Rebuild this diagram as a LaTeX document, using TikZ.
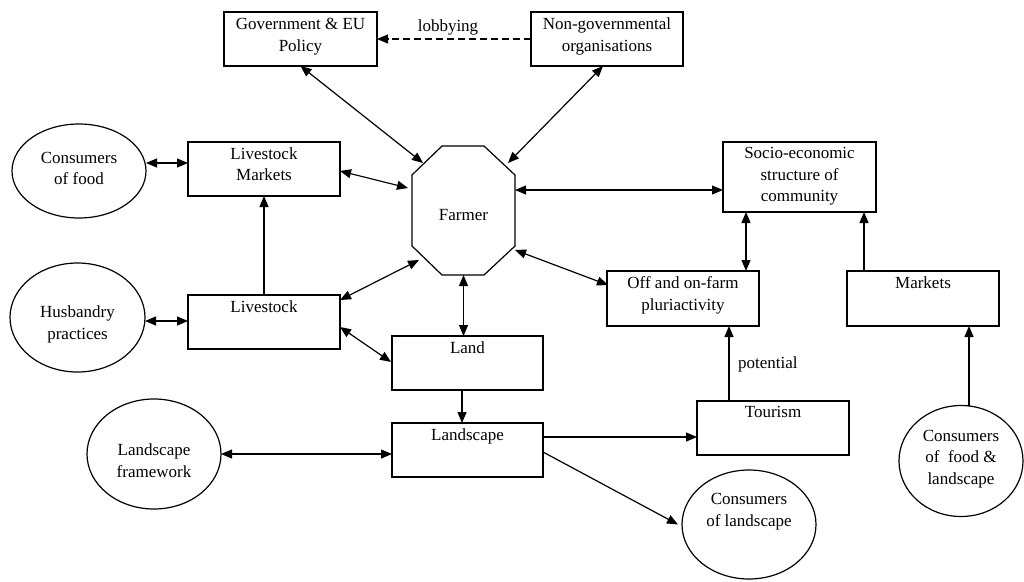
\documentclass[tikz,border=0pt]{standalone}
\usepackage{fontspec}
\setmainfont{Liberation Serif}
\usetikzlibrary{arrows.meta,calc,shapes.geometric}
\tikzset{
  every node/.append style={font=\fontsize{17pt}{21.5pt}\selectfont, text=black},
  box/.style={draw, line width=1.2pt, rectangle, inner sep=0pt, outer sep=0pt},
  oval/.style={draw, line width=1.2pt, ellipse, inner sep=0pt, outer sep=0pt},
  toptext/.style={anchor=north, yshift=-5.5pt, align=center, inner sep=0pt},
  midtext/.style={anchor=center, align=center, inner sep=0pt},
  conn/.style={line width=1.2pt},
  one/.style={conn, -{Triangle[length=11pt,width=9pt]}},
  two/.style={conn, {Triangle[length=11pt,width=9pt]}-{Triangle[length=11pt,width=9pt]}},
}
\begin{document}
\begin{tikzpicture}[x=1pt,y=-1pt]
\useasboundingbox (0,0) rectangle (1024,581);

% boxes
\node[box, minimum width=153pt, minimum height=54pt, label={[toptext,yshift=-0.5pt]north:{Government \& EU\\Policy}}] (gov) at (300.5,39) {};
\node[box, minimum width=152pt, minimum height=54pt, label={[toptext,yshift=-0.5pt]north:{Non-governmental\\organisations}}] (ngo) at (607,39) {};
\node[box, minimum width=152pt, minimum height=54pt, label={[toptext]north:{Livestock\\Markets}}] (lm) at (264,169) {};
\node[box, minimum width=152pt, minimum height=54pt, label={[toptext]north:{Livestock}}] (ls) at (264,322) {};
\node[box, minimum width=151pt, minimum height=54pt, label={[toptext]north:{Land}}] (land) at (467.5,363) {};
\node[box, minimum width=151pt, minimum height=54pt, label={[toptext]north:{Landscape}}] (lsc) at (467.5,450) {};
\node[box, minimum width=152pt, minimum height=54pt, label={[toptext]north:{Tourism}}] (tour) at (773,428) {};
\node[box, minimum width=153pt, minimum height=70pt, label={[toptext]north:{Socio-economic\\structure of\\community}}] (soc) at (799.5,177) {};
\node[box, minimum width=152pt, minimum height=55pt, label={[toptext]north:{Off and on-farm\\pluriactivity}}] (off) at (683,298.5) {};
\node[box, minimum width=152pt, minimum height=55pt, label={[toptext]north:{Markets}}] (mkt) at (923,298.5) {};

% farmer octagon
\node[inner sep=0pt, outer sep=0pt, minimum width=103pt, minimum height=129pt, label={[midtext,yshift=-5pt]center:{Farmer}}] (farmer) at (463.5,210.5) {};
\draw[line width=1.2pt] ([shift={(30,0)}]farmer.north west) -- ++(42,0) -- ++(31,29) -- ++(0,71) -- ++(-31,29) -- ++(-42,0) -- ++(-30,-29) -- ++(0,-71) -- cycle;

% ellipses
\node[oval, minimum width=134pt, minimum height=94pt, label={[midtext,yshift=2.5pt]center:{Consumers\\of food}}] (cf) at (79,171) {};
\node[oval, minimum width=135pt, minimum height=109pt, label={[midtext,yshift=-6.8pt]center:{Husbandry\\practices}}] (hus) at (77.5,317.5) {};
\node[oval, minimum width=134pt, minimum height=110pt, label={[midtext,yshift=-6.5pt]center:{Landscape\\framework}}] (lf) at (154,454) {};
\node[oval, minimum width=134pt, minimum height=109pt, label={[midtext,yshift=12.6pt]center:{Consumers\\of landscape}}] (cl) at (749,524.5) {};
\node[oval, minimum width=124pt, minimum height=111pt, label={[midtext,yshift=2pt]center:{Consumers\\of~ food \&\\landscape}}] (cfl) at (961,461) {};

% connectors
\draw[one, dash pattern=on 7pt off 4pt] (ngo.west) -- (gov.east);
\node (lob) at (448,27.8) {lobbying};

\draw[two] (gov.south) -- ([shift={(11,17)}]farmer.north west);
\draw[two] ([shift={(-4,0)}]ngo.south) -- ([shift={(-7,17)}]farmer.north east);
\draw[two] ([shift={(0,2)}]lm.east) -- ([shift={(-4,-22.5)}]farmer.west);
\draw[two] ([shift={(0,5)}]ls.north east) -- ([shift={(7,49.5)}]farmer.west);
\draw[two] ([shift={(0,5)}]ls.east) -- ([shift={(-1,-1)}]land.west);
\draw[two] ([shift={(0,-8)}]cf.east) -- ([shift={(0,-6)}]lm.west);
\draw[two] ([shift={(0,3.5)}]hus.east) -- ([shift={(0,-1)}]ls.west);
\draw[one] (ls.north) -- (lm.south);
\draw[two] (farmer.south) -- (farmer.south |- land.north);
\draw[one] ([xshift=-5.5pt]land.south) -- ([xshift=-5.5pt]lsc.north);
\draw[two] (lf.east) -- (lf.east -| lsc.west);
\coordinate (lt) at ([shift={(0,-13)}]lsc.east);
\draw[one] (lt) -- (lt -| tour.west);
\draw[one] ([shift={(0,2)}]lsc.east) -- ([shift={(-4,0)}]cl.west);
\coordinate (fs) at ([shift={(0,13)}]soc.west);
\draw[two] (fs -| farmer.east) -- (fs);
\draw[two] ([shift={(0,39.5)}]farmer.east) -- ([shift={(1,14)}]off.north west);
\coordinate (so) at ([xshift=63pt]off.north);
\draw[two] (so) -- (so |- soc.south);
\coordinate (ms) at ([xshift=-59pt]mkt.north);
\draw[one] (ms) -- (ms |- soc.south);
\coordinate (to) at ([xshift=-44pt]tour.north);
\draw[one] (to) -- (to |- off.south);
\node[anchor=west, inner sep=0pt] (pot) at (738,364) {potential};
\coordinate (cm) at ([xshift=8pt]cfl.north);
\draw[one] (cm) -- (cm |- mkt.south);
\end{tikzpicture}
\end{document}
